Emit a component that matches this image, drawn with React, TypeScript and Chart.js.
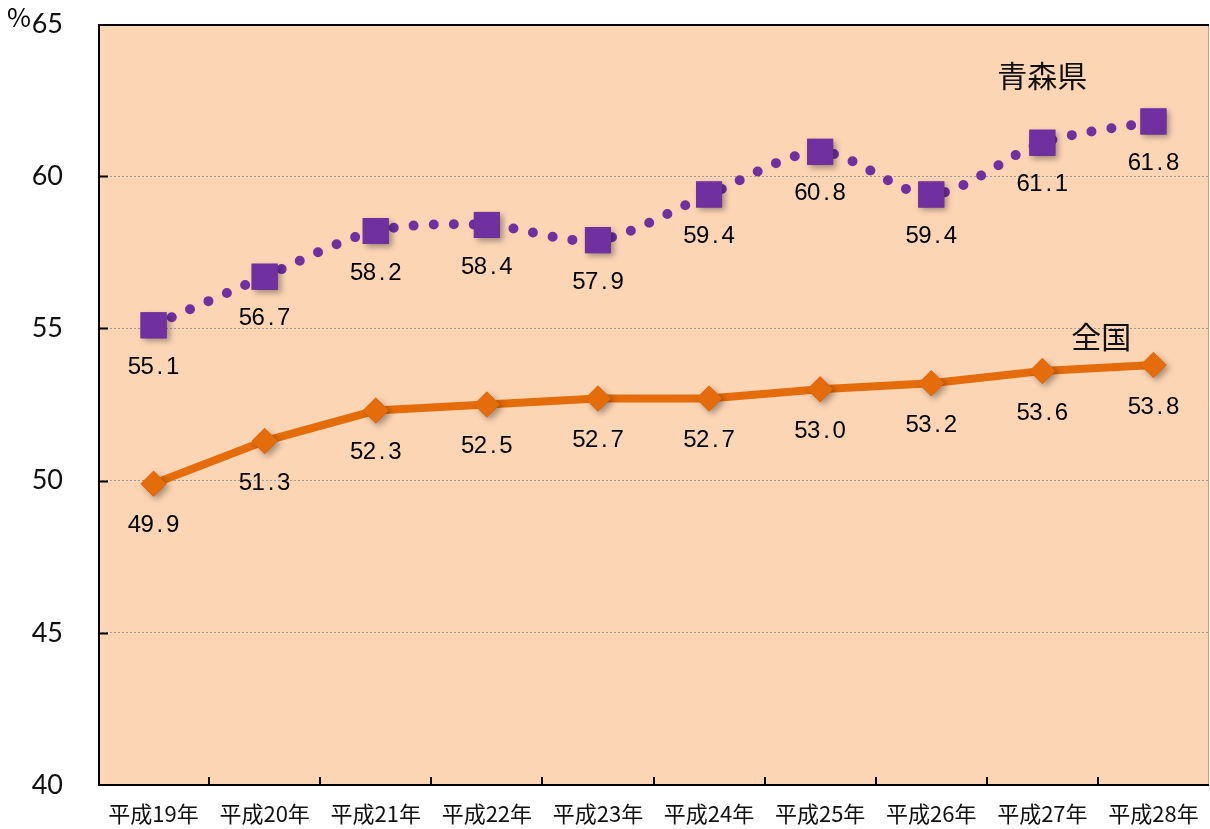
import React, { useEffect, useRef } from "react";
import { Chart, registerables } from "chart.js";

Chart.register(...registerables);

const categories = ["平成19年", "平成20年", "平成21年", "平成22年", "平成23年", "平成24年", "平成25年", "平成26年", "平成27年", "平成28年"];
const aomori = [55.1, 56.7, 58.2, 58.4, 57.9, 59.4, 60.8, 59.4, 61.1, 61.8];
const national = [49.9, 51.3, 52.3, 52.5, 52.7, 52.7, 53.0, 53.2, 53.6, 53.8];
const yTicks = [40, 45, 50, 55, 60, 65];
const seriesNames = ["青森県", "全国"];

const PURPLE = "#7030A0";
const ORANGE = "#E46C0A";
const BG = "#FCD5B5";

const customPlugin = {
  id: "custom",
  beforeDraw(chart: any) {
    const { ctx, chartArea: a } = chart;
    ctx.save();
    ctx.fillStyle = BG;
    ctx.fillRect(a.left, a.top, a.right - a.left, a.bottom - a.top);
    ctx.restore();
  },
  beforeDatasetsDraw(chart: any) {
    const { ctx, chartArea: a } = chart;
    const x = chart.scales.x;
    const y = chart.scales.y;
    ctx.save();
    ctx.strokeStyle = "#B8A08C";
    ctx.lineWidth = 1;
    ctx.beginPath();
    ctx.moveTo(a.right - 0.5, a.top);
    ctx.lineTo(a.right - 0.5, a.bottom);
    ctx.stroke();
    ctx.strokeStyle = "#000";
    ctx.lineWidth = 2;
    ctx.beginPath();
    ctx.moveTo(a.right, a.top + 1);
    ctx.lineTo(a.left + 1, a.top + 1);
    ctx.lineTo(a.left + 1, a.bottom);
    ctx.lineTo(a.right, a.bottom);
    ctx.stroke();
    ctx.beginPath();
    yTicks.forEach((v) => {
      if (v === 40 || v === 65) return;
      const py = Math.round(y.getPixelForValue(v)) + 0.5;
      ctx.moveTo(a.left, py);
      ctx.lineTo(a.left + 10, py);
    });
    ctx.stroke();
    ctx.beginPath();
    for (let i = 0; i < categories.length - 1; i++) {
      const px = Math.round((x.getPixelForValue(i) + x.getPixelForValue(i + 1)) / 2);
      ctx.moveTo(px, a.bottom);
      ctx.lineTo(px, a.bottom - 8);
    }
    ctx.stroke();
    ctx.restore();
  },
  afterDatasetDraw(chart: any, args: any) {
    const { ctx } = chart;
    const meta = args.meta;
    ctx.save();
    ctx.shadowColor = "rgba(0,0,0,0.35)";
    ctx.shadowBlur = 6;
    ctx.shadowOffsetX = 3;
    ctx.shadowOffsetY = 3;
    meta.data.forEach((el: any) => el.draw(ctx, chart.chartArea));
    ctx.restore();
  },
  afterDatasetsDraw(chart: any) {
    const { ctx } = chart;
    const x = chart.scales.x;
    const y = chart.scales.y;
    ctx.save();
    ctx.fillStyle = "#000";
    ctx.textAlign = "center";
    ctx.textBaseline = "middle";
    ctx.font = "24px 'Liberation Sans'";
    const cell = 12.75;
    chart.data.datasets.forEach((ds: any, di: number) => {
      const meta = chart.getDatasetMeta(di);
      meta.data.forEach((el: any, i: number) => {
        const text = Number(ds.data[i]).toFixed(1);
        const start = el.x - (text.length * cell) / 2;
        for (let k = 0; k < text.length; k++) {
          ctx.fillText(text[k], start + (k + 0.5) * cell, el.y + 42);
        }
      });
    });
    ctx.fillStyle = "#111";
    ctx.font = "30px 'Noto Sans CJK JP'";
    ctx.fillText(seriesNames[0], x.getPixelForValue(8), y.getPixelForValue(63.3));
    ctx.fillText(seriesNames[1], x.getPixelForValue(8.53), y.getPixelForValue(54.72));
    ctx.fillStyle = "#000";
    ctx.font = "26px 'Noto Sans CJK JP'";
    ctx.fillText("%", 19, 17);
    ctx.restore();
  },
};

export default function App() {
  const ref = useRef<HTMLCanvasElement | null>(null);
  useEffect(() => {
    document.body.style.margin = "0";
    const chart = new Chart(ref.current as HTMLCanvasElement, {
      type: "line",
      data: {
        labels: categories,
        datasets: [
          {
            label: seriesNames[0],
            data: aomori,
            borderColor: PURPLE,
            backgroundColor: PURPLE,
            borderWidth: 10,
            borderDash: [0, 20],
            borderCapStyle: "round",
            tension: 0.3,
            pointStyle: "rect",
            pointRadius: 18.4,
            pointBorderWidth: 0,
            pointBackgroundColor: PURPLE,
            pointBorderColor: PURPLE,
          },
          {
            label: seriesNames[1],
            data: national,
            borderColor: ORANGE,
            backgroundColor: ORANGE,
            borderWidth: 8,
            tension: 0,
            pointStyle: "rectRot",
            pointRadius: 13,
            pointBorderWidth: 0,
            pointBackgroundColor: ORANGE,
            pointBorderColor: ORANGE,
          },
        ],
      },
      options: {
        responsive: false,
        animation: false,
        layout: { autoPadding: false, padding: { top: 24, right: 1, left: 0, bottom: 0 } },
        plugins: { legend: { display: false }, tooltip: { enabled: false } },
        scales: {
          x: {
            type: "category",
            offset: true,
            grid: { display: false, drawTicks: false },
            border: { display: false },
            ticks: {
              color: "#111",
              font: { family: "'Noto Sans CJK JP'", size: 22 },
              padding: 15,
              maxRotation: 0,
              autoSkip: false,
            },
            afterFit: (s: any) => {
              s.height = 44;
              s.paddingLeft = 0;
              s.paddingRight = 0;
              s.paddingTop = 0;
              s.paddingBottom = 0;
            },
          },
          y: {
            min: 40,
            max: 65,
            afterBuildTicks: (s: any) => {
              s.ticks = yTicks.map((v) => ({ value: v }));
            },
            grid: {
              drawTicks: false,
              color: (c: any) =>
                c.tick && (c.tick.value === 40 || c.tick.value === 65) ? "rgba(0,0,0,0)" : "#9A9A9A",
              lineWidth: 1,
            },
            border: { display: false, dash: [2, 2] },
            ticks: {
              color: "#111",
              font: { family: "Lato", size: 27 },
              padding: 35,
            },
            afterFit: (s: any) => {
              s.width = 98;
              s.paddingLeft = 0;
              s.paddingRight = 0;
              s.paddingTop = 0;
              s.paddingBottom = 0;
            },
          },
        },
      },
      plugins: [customPlugin],
    } as any);
    return () => chart.destroy();
  }, []);
  return (
    <div style={{ position: "absolute", left: 0, top: 0, width: 1210, height: 829 }}>
      <canvas ref={ref} width={1210} height={829} style={{ display: "block" }} />
    </div>
  );
}
